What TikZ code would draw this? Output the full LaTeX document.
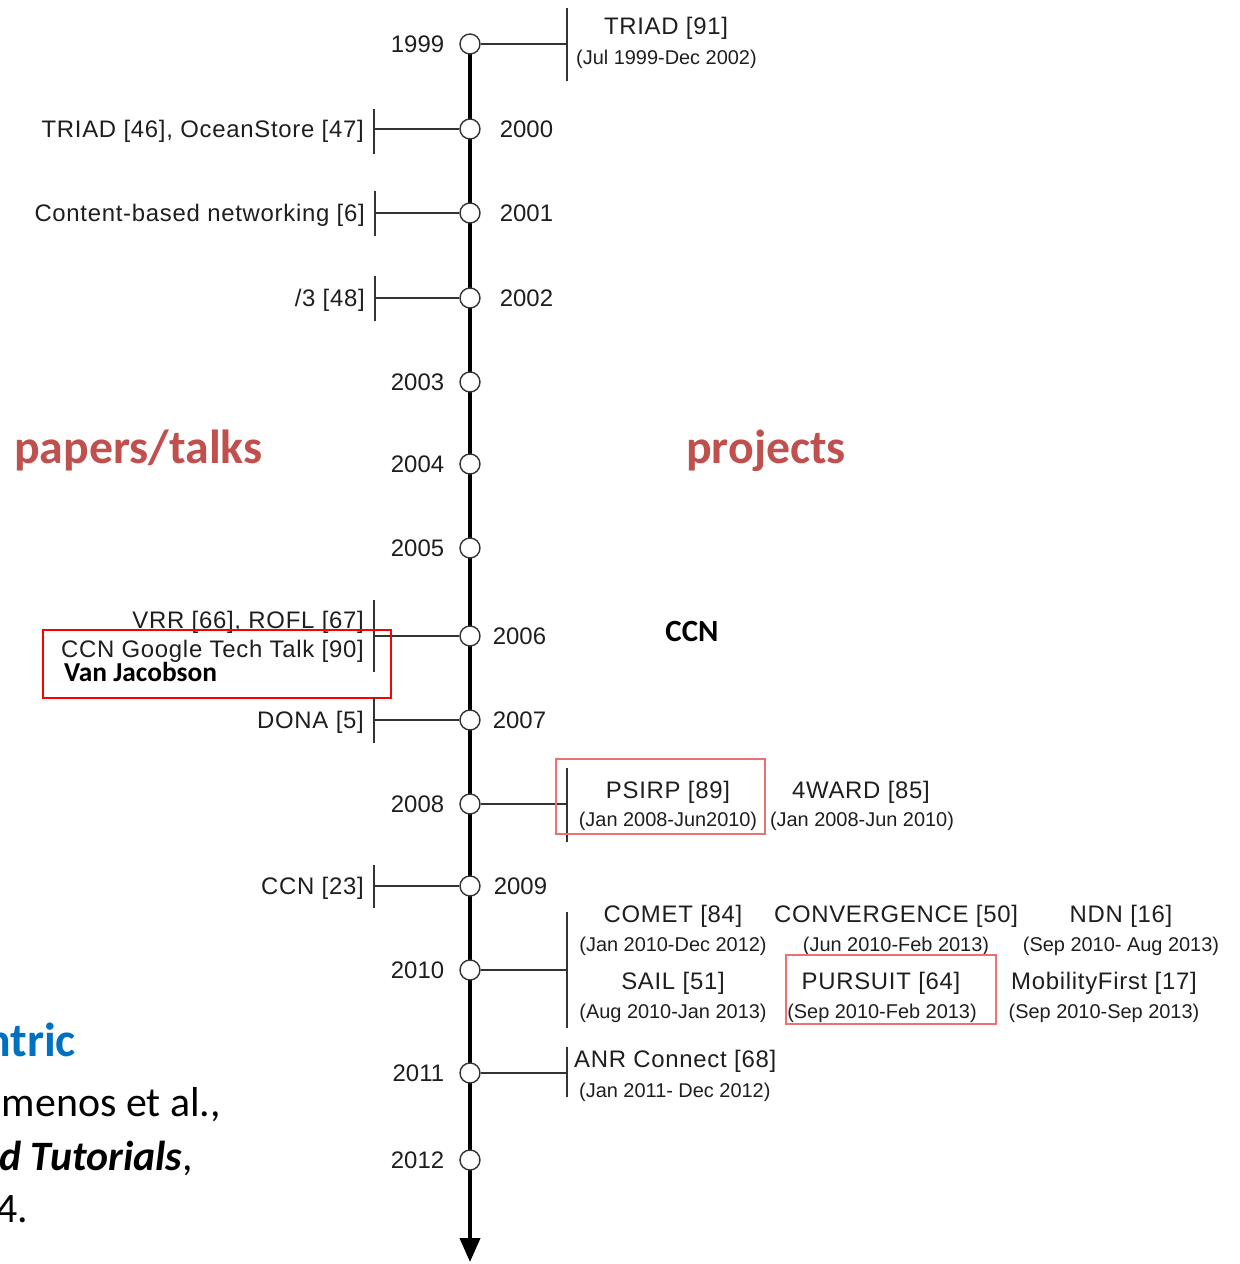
\documentclass[tikz,border=0pt]{standalone}
\usepackage{fontspec}
\setmainfont{Liberation Sans}
\newfontfamily\slidefont{Carlito}
\newfontfamily\itemfont[LetterSpace=3]{Liberation Sans}
\usetikzlibrary{arrows.meta,backgrounds}
\definecolor{ink}{HTML}{1E1E1E}
\definecolor{rule}{HTML}{333333}
\definecolor{hdred}{HTML}{C0504D}
\definecolor{hdblue}{HTML}{0070C0}
\definecolor{boxred}{HTML}{FF0000}
\definecolor{softred}{HTML}{EE7070}

\begin{document}
\begin{tikzpicture}[x=1bp,y=-1bp,
  yearpt/.style={circle,draw=rule,fill=white,line width=1.4bp,minimum size=20bp,inner sep=0pt},
  yearlbl/.style={font=\fontsize{24}{28}\selectfont,text=ink,inner sep=0pt,text height=17bp,text depth=0pt},
  item/.style={font=\itemfont\fontsize{24}{28}\selectfont,text=ink,inner sep=0pt,text height=17bp,text depth=0pt},
  period/.style={font=\fontsize{20}{24}\selectfont,text=ink,inner sep=0pt,text height=14bp,text depth=0pt},
  tie/.style={draw=rule,line width=1.4bp},
  axis/.style={draw=black,line width=4bp,-{Triangle[length=24bp,width=20bp]}},
  hl/.style={draw=boxred,line width=1.4bp},
  hlsoft/.style={draw=softred,line width=1.4bp},
  heading/.style={font=\slidefont\bfseries\fontsize{48}{54}\selectfont,inner sep=0pt,text height=33bp,text depth=0pt},
  note/.style={font=\slidefont\bfseries\fontsize{27.5}{32}\selectfont,text=black,inner sep=0pt,text height=19bp,text depth=0pt},
  body/.style={font=\slidefont\fontsize{42}{48}\selectfont,text=black,inner sep=0pt,text height=29bp,text depth=0pt}
]
\useasboundingbox (0,0) rectangle (1240,1264);
\clip (0,0) rectangle (1240,1264);

% ---- time axis with one point per year ----
\foreach \yr/\yy in {1999/44,2000/129,2001/213,2002/298,2003/382,2004/464,2005/548,
                     2006/636,2007/720,2008/804,2009/886,2010/970,2011/1073,2012/1160}
  \node[yearpt] (c\yr) at (470,\yy) {};
\coordinate (tip) at (470,1262);
\begin{scope}[on background layer]
  \draw[axis] (c1999.center) -- (tip);
\end{scope}

% ---- year labels ----
\node[yearlbl,anchor=east] (l1999) at ([xshift=-15bp]c1999.west) {1999};
\node[yearlbl,anchor=west] (l2000) at ([xshift=19bp]c2000.east) {2000};
\node[yearlbl,anchor=west] (l2001) at ([xshift=19bp]c2001.east) {2001};
\node[yearlbl,anchor=west] (l2002) at ([xshift=19bp]c2002.east) {2002};
\node[yearlbl,anchor=east] (l2003) at ([xshift=-15bp]c2003.west) {2003};
\node[yearlbl,anchor=east] (l2004) at ([xshift=-15bp]c2004.west) {2004};
\node[yearlbl,anchor=east] (l2005) at ([xshift=-15bp]c2005.west) {2005};
\node[yearlbl,anchor=west] (l2006) at ([xshift=12bp]c2006.east) {2006};
\node[yearlbl,anchor=west] (l2007) at ([xshift=12bp]c2007.east) {2007};
\node[yearlbl,anchor=east] (l2008) at ([xshift=-15bp]c2008.west) {2008};
\node[yearlbl,anchor=west] (l2009) at ([xshift=13bp]c2009.east) {2009};
\node[yearlbl,anchor=east] (l2010) at ([xshift=-15bp]c2010.west) {2010};
\node[yearlbl,anchor=east] (l2011) at ([xshift=-15bp]c2011.west) {2011};
\node[yearlbl,anchor=east] (l2012) at ([xshift=-15bp]c2012.west) {2012};

% ---- papers / talks (left side) ----
\coordinate (b2000) at (374,129);
\draw[tie] (c2000) -- (b2000);
\draw[tie] (374,109) -- (374,154);
\node[item,anchor=east] (p2000) at (364,129) {TRIAD [46], OceanStore [47]};

\coordinate (b2001) at (375,213);
\draw[tie] (c2001) -- (b2001);
\draw[tie] (375,191) -- (375,236);
\node[item,anchor=east] (p2001) at (365,213) {Content-based networking [6]};

\coordinate (b2002) at (375,298);
\draw[tie] (c2002) -- (b2002);
\draw[tie] (375,276) -- (375,321);
\node[item,anchor=east] (p2002) at (365,298) {/3 [48]};

\coordinate (b2006) at (374,636);
\draw[tie] (c2006) -- (b2006);
\draw[tie] (374,600) -- (374,672);
\node[item,anchor=east] (p2006a) at (364,620) {VRR [66], ROFL [67]};
\node[item,anchor=east] (p2006b) at (364,649) {CCN Google Tech Talk [90]};
\node[note,anchor=west] (vj) at (64,672) {Van Jacobson};
\draw[hl] (43,630) rectangle (391,698);

\coordinate (b2007) at (374,720);
\draw[tie] (c2007) -- (b2007);
\draw[tie] (374,698) -- (374,743);
\node[item,anchor=east] (p2007) at (364,720) {DONA [5]};

\coordinate (b2009) at (374,886);
\draw[tie] (c2009) -- (b2009);
\draw[tie] (374,865) -- (374,908);
\node[item,anchor=east] (p2009) at (364,886) {CCN [23]};

% ---- projects (right side) ----
\coordinate (b1999) at (567,44);
\draw[tie] (c1999) -- (b1999);
\draw[tie] (567,8) -- (567,81);
\node[item] (j1999) at (666,26) {TRIAD [91]};
\node[period,anchor=west] (d1999) at (576,57) {(Jul 1999-Dec 2002)};

\coordinate (b2008) at (567,804);
\draw[tie] (c2008) -- (b2008);
\draw[tie] (567,768) -- (567,842);
\node[item] (psirp) at (668,790) {PSIRP [89]};
\node[period] (dpsirp) at (668,819) {(Jan 2008-Jun2010)};
\node[item] (fward) at (861,790) {4WARD [85]};
\node[period] (dfward) at (862,819) {(Jan 2008-Jun 2010)};
\draw[hlsoft] (556,759) rectangle (765,834);

\coordinate (b2010) at (567,970);
\draw[tie] (c2010) -- (b2010);
\draw[tie] (567,912) -- (567,1028);
\node[item] (comet) at (673,914) {COMET [84]};
\node[period] (dcomet) at (673,944) {(Jan 2010-Dec 2012)};
\node[item] (conv) at (896,914) {CONVERGENCE [50]};
\node[period] (dconv) at (896,944) {(Jun 2010-Feb 2013)};
\node[item] (ndn) at (1121,914) {NDN [16]};
\node[period] (dndn) at (1121,944) {(Sep 2010- Aug 2013)};
\node[item] (sail) at (673,981) {SAIL [51]};
\node[period] (dsail) at (673,1011) {(Aug 2010-Jan 2013)};
\node[item] (pursuit) at (881,981) {PURSUIT [64]};
\node[period] (dpursuit) at (882,1011) {(Sep 2010-Feb 2013)};
\node[item] (mf) at (1104,981) {MobilityFirst [17]};
\node[period] (dmf) at (1104,1011) {(Sep 2010-Sep 2013)};
\draw[hlsoft] (786,955) rectangle (996,1024);

\coordinate (b2011) at (567,1073);
\draw[tie] (c2011) -- (b2011);
\draw[tie] (567,1047) -- (567,1097);
\node[item,anchor=west] (anr) at (574,1059) {ANR Connect [68]};
\node[period,anchor=west] (danr) at (579,1090) {(Jan 2011- Dec 2012)};

% ---- slide annotations ----
\node[note,font=\slidefont\bfseries\fontsize{31}{36}\selectfont,text height=21bp] (ccn) at (692,631) {CCN};
\node[heading,text=hdred,anchor=west] (papers) at (14,447) {papers/talks};
\node[heading,text=hdred,anchor=west] (projects) at (686,447) {projects};

\node[heading,text=hdblue,anchor=east] (ttl) at (76,1040) {ntric};
\node[body,anchor=east] (ref1) at (221,1102) {menos et al.,};
\node[body,anchor=east] (ref2) at (193,1156) {\textbf{\textit{d Tutorials}},};
\node[body,anchor=east] (ref3) at (28,1208) {4.};
\end{tikzpicture}
\end{document}
